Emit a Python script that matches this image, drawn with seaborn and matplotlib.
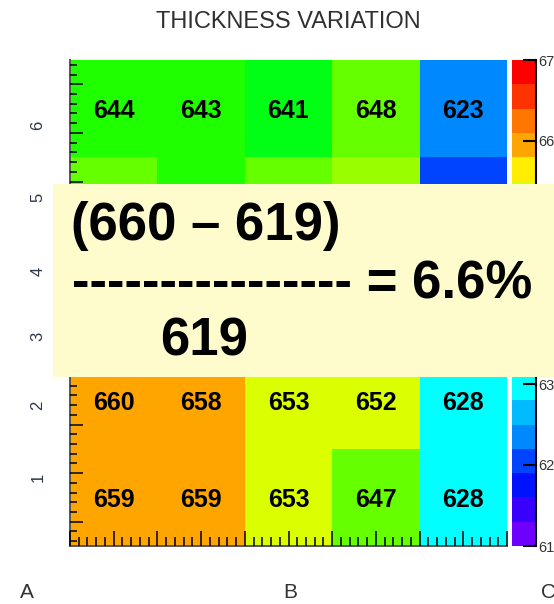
import numpy as np
import pandas as pd
import matplotlib
matplotlib.use("Agg")
import matplotlib.pyplot as plt
import matplotlib.transforms as mtransforms
from matplotlib.colors import ListedColormap, BoundaryNorm
from matplotlib.patches import Rectangle
import seaborn as sns

# ---- data -------------------------------------------------------------
columns = ["c1", "c2", "c3", "c4", "c5"]
rows = ["r5", "r4", "r3", "r2", "r1"]          # top row first
row_r5 = [644, 643, 641, 648, 623]
row_r4 = [647, 645, 648, 651, 619]
row_r3 = [655, 651, 650, 649, 624]
row_r2 = [660, 658, 653, 652, 628]
row_r1 = [659, 659, 653, 647, 628]
covered_rows = ["r4", "r3"]                    # rows sitting under the note box

y_labels = ["1", "2", "3", "4", "5", "6"]
y_label_pos = [0.71, 1.45, 2.16, 2.83, 3.59, 4.33]   # in row units from the bottom
x_labels = ["A", "B", "C"]

z_min, z_max, z_step = 610, 670, 3
cbar_ticks = [610, 620, 630, 640, 650, 660, 670]

# 20-level rainbow palette (violet -> red)
palette = [
    "#6E00FF", "#3A00FF", "#0012FF", "#0044FF", "#0088FF",
    "#00BBFF", "#00FFFF", "#00FFBB", "#00FF88", "#00FF50",
    "#00FF14", "#20FF00", "#66FF00", "#99FF00", "#DCFF00",
    "#FFEE00", "#FFA500", "#FF7700", "#FF3300", "#FF0000",
]

table = pd.DataFrame([row_r5, row_r4, row_r3, row_r2, row_r1],
                     index=rows, columns=columns)
labels = table.astype(str)
labels.loc[covered_rows] = ""

# ---- figure -----------------------------------------------------------
W, H = 554, 604
sns.set_style("white")
plt.rcParams["font.family"] = ["Liberation Sans", "DejaVu Sans"]
plt.rcParams["axes.axisbelow"] = False

fig = plt.figure(figsize=(W / 100, H / 100), dpi=100)


def fx(px):
    return px / W


def fy(py):
    return 1 - py / H


left, right, top, bottom = 70, 507, 60, 546
cbar_left, cbar_w = 512, 24
ax = fig.add_axes([fx(left), fy(bottom), (right - left) / W, (bottom - top) / H])
cbar_rect = [fx(cbar_left), fy(bottom), cbar_w / W, (bottom - top) / H]
cax = fig.add_axes(cbar_rect)

cmap = ListedColormap(palette)
norm = BoundaryNorm(np.arange(z_min, z_max + 1, z_step), cmap.N)

sns.heatmap(table, ax=ax, cbar_ax=cax, cmap=cmap, norm=norm,
            annot=labels, fmt="",
            annot_kws={"fontsize": 18, "fontweight": "bold", "color": "black"},
            xticklabels=False, yticklabels=False, linewidths=0)

# annotations sit a touch below the cell centre
for t in ax.texts:
    x, y = t.get_position()
    t.set_position((x, y + 0.025))

ax.set_xlabel("")
ax.set_ylabel("")
ax.set_title("THICKNESS VARIATION", fontsize=17, color="#303030", pad=23)
ax.set_axisbelow(False)

# axis frame: left and bottom lines only
for side in ["left", "bottom"]:
    ax.spines[side].set_visible(True)
    ax.spines[side].set_color("#555555")
    ax.spines[side].set_linewidth(1.4)
for side in ["top", "right"]:
    ax.spines[side].set_visible(False)

n_rows, n_cols = table.shape

# tick marks pointing into the plot
x_major = np.arange(0, n_cols + 0.01, 0.5)
x_minor = [v for v in np.round(np.arange(0, n_cols + 0.001, 0.1), 3)
           if not np.any(np.isclose(v, x_major))]
ax.set_xticks(x_major)
ax.set_xticks(x_minor, minor=True)

y_major_from_bottom = np.arange(0.25, n_rows, 0.5)
y_minor_from_bottom = [v for v in np.round(np.arange(0.05, n_rows, 0.1), 3)
                       if not np.any(np.isclose(v, y_major_from_bottom))]
ax.set_yticks(n_rows - y_major_from_bottom)
ax.set_yticks(n_rows - np.array(y_minor_from_bottom), minor=True)

ax.xaxis.set_tick_params(which="major", direction="in", length=10.8, width=1.1,
                         color="black", labelbottom=False, bottom=True)
ax.xaxis.set_tick_params(which="minor", direction="in", length=6.3, width=1.1,
                         color="black", bottom=True)
ax.yaxis.set_tick_params(which="major", direction="in", length=9.4, width=1.1,
                         color="black", labelleft=False, left=True)
ax.yaxis.set_tick_params(which="minor", direction="in", length=5.0, width=1.1,
                         color="black", left=True)

# rotated row labels
ytrans = mtransforms.blended_transform_factory(ax.transAxes, ax.transData)
for lab, pos in zip(y_labels, y_label_pos):
    ax.text(-0.0732, n_rows - pos, lab, transform=ytrans, rotation=90,
            ha="center", va="center", fontsize=12, color="#2b3646")

# lower labels
for lab, px in zip(x_labels, [27, 290, 549]):
    fig.text(fx(px), fy(593), lab, ha="center", va="center",
             fontsize=15, color="#333333")

# colour scale: colour strip from seaborn, scale axis on a clear overlay
cbar = ax.collections[0].colorbar
cbar.outline.set_visible(False)
cax.tick_params(left=False, right=False, labelleft=False, labelright=False,
                which="both")

sax = fig.add_axes(cbar_rect, zorder=3)
sax.patch.set_visible(False)
sax.set_xlim(0, 1)
sax.set_ylim(z_min, z_max)
for side in ["left", "top", "bottom"]:
    sax.spines[side].set_visible(False)
sax.spines["right"].set_visible(True)
sax.spines["right"].set_color("black")
sax.spines["right"].set_linewidth(1.5)
sax.set_xticks([])
sax.yaxis.tick_right()
sax.set_yticks(cbar_ticks)
sax.set_yticklabels([str(t) for t in cbar_ticks])
sax.yaxis.set_tick_params(which="major", right=True, left=False,
                          labelright=True, labelleft=False,
                          direction="in", length=9.4, width=1.5,
                          color="black", labelsize=10.5,
                          labelcolor="#333333", pad=1.5)

# variation note
v_max = int(table.values.max())
v_min = int(table.values.min())
variation = (v_max - v_min) / v_min * 100

fig.add_artist(Rectangle((fx(53), fy(377)), fx(600) - fx(53), (377 - 184) / H,
                         transform=fig.transFigure, facecolor="#FEFCCD",
                         edgecolor="none", zorder=5))
note_kw = dict(fontsize=38, fontweight="bold", color="black",
               ha="left", va="baseline", zorder=6)
fig.text(fx(71), fy(240), f"({v_max} – {v_min})", **note_kw)
fig.text(fx(72), fy(299), "-" * 16 + f" = {variation:.1f}%", **note_kw)
fig.text(fx(160), fy(355), f"{v_min}", **note_kw)

fig.savefig("out.png", dpi=100)
